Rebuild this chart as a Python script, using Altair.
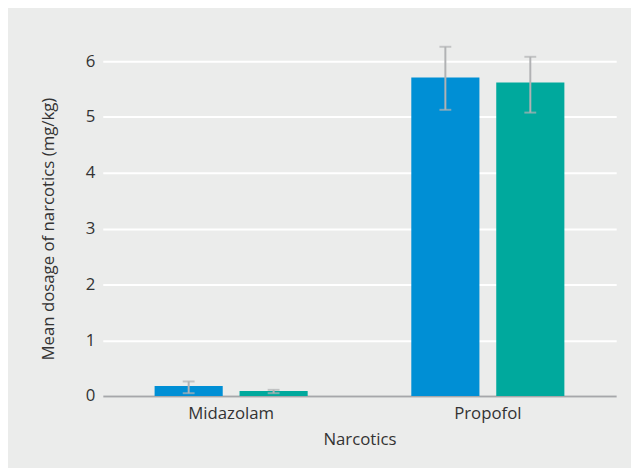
import altair as alt
import pandas as pd

narcotics = ["Midazolam", "Midazolam", "Propofol", "Propofol"]
groups = ["Group 1", "Group 2", "Group 1", "Group 2"]
means = [0.18, 0.09, 5.71, 5.62]
lows = [0.05, 0.05, 5.13, 5.08]
highs = [0.26, 0.11, 6.26, 6.08]

df = pd.DataFrame({"narc": narcotics, "group": groups, "mean": means, "lo": lows, "hi": highs})

FONT = "Open Sans"
xsc = alt.Scale(paddingInner=0, paddingOuter=0)
osc = alt.Scale(paddingInner=0.198, paddingOuter=0.61)

base = alt.Chart(df).encode(
    x=alt.X("narc:N", scale=xsc, title="Narcotics",
            axis=alt.Axis(labelAngle=0, ticks=False, domainColor="#a6a7aa", domainWidth=2,
                          labelPadding=10, titlePadding=10, grid=False)),
    xOffset=alt.XOffset("group:N", scale=osc),
)

bars = base.mark_bar().encode(
    y=alt.Y("mean:Q", scale=alt.Scale(domain=[0, 6], nice=False),
            title="Mean dosage of narcotics (mg/kg)",
            axis=alt.Axis(values=[0, 1, 2, 3, 4, 5, 6], format="d", ticks=False, domain=False,
                          gridColor="white", gridWidth=2, labelPadding=8, titlePadding=28)),
    color=alt.Color("group:N", scale=alt.Scale(domain=["Group 1", "Group 2"],
                                               range=["#008fd5", "#00a99d"]), legend=None),
)

rules = base.mark_rule(color="#b1b2b4", strokeWidth=2).encode(y="lo:Q", y2="hi:Q")
caps_hi = base.mark_tick(color="#b1b2b4", thickness=2, size=12, orient="horizontal").encode(y="hi:Q")
caps_lo = base.mark_tick(color="#b1b2b4", thickness=2, size=12, orient="horizontal").encode(y="lo:Q")

chart = alt.layer(bars, rules, caps_hi, caps_lo).properties(
    width=520, height=339,
    autosize=alt.AutoSizeParams(type="none"),
    padding={"left": 96, "top": 51, "right": 15, "bottom": 70},
    background="#ebeceb",
).configure_view(stroke=None).configure_axis(
    labelFont=FONT, titleFont=FONT, labelFontSize=17, titleFontSize=17,
    labelColor="#333333", titleColor="#333333", titleFontWeight="normal",
)

chart.save("out.html", embed_options={"renderer": "svg", "actions": False})
